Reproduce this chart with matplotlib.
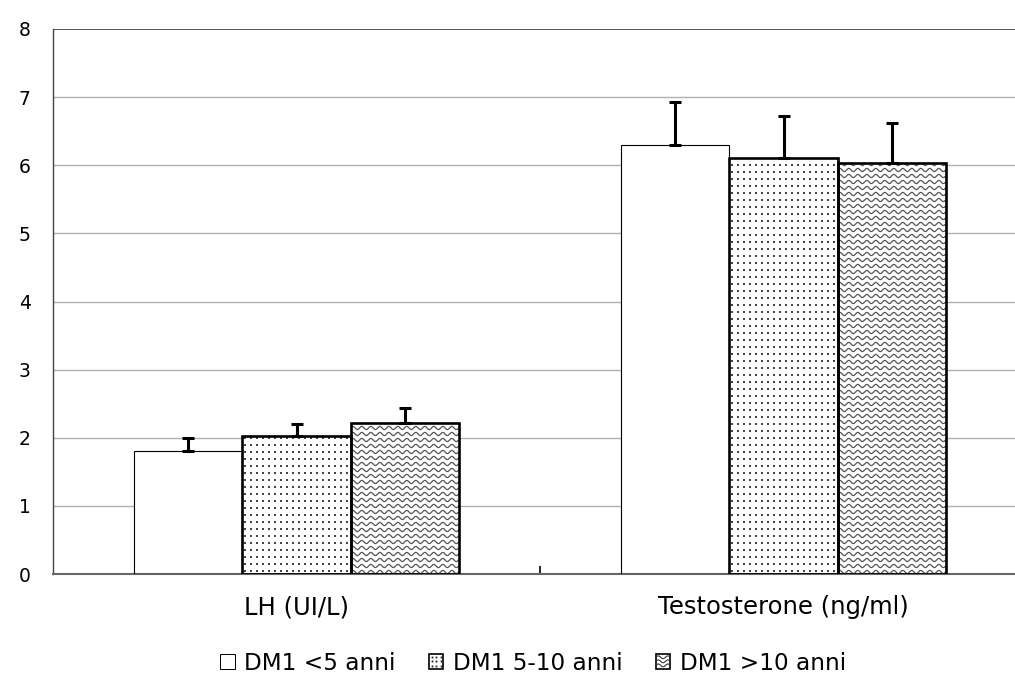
import numpy as np
import matplotlib
matplotlib.use("Agg")
import matplotlib.pyplot as plt
from matplotlib.patches import Rectangle
from matplotlib.legend_handler import HandlerBase
from matplotlib.lines import Line2D

categories = ["LH (UI/L)", "Testosterone (ng/ml)"]
series = ["DM1 <5 anni", "DM1 5-10 anni", "DM1 >10 anni"]
means = {
    "DM1 <5 anni": [1.81, 6.30],
    "DM1 5-10 anni": [2.03, 6.10],
    "DM1 >10 anni": [2.22, 6.03],
}
errors = {
    "DM1 <5 anni": [0.19, 0.63],
    "DM1 5-10 anni": [0.17, 0.62],
    "DM1 >10 anni": [0.21, 0.59],
}
yticks = [0, 1, 2, 3, 4, 5, 6, 7, 8]

W, H, DPI = 1015, 677, 100
fig = plt.figure(figsize=(W / DPI, H / DPI), dpi=DPI)
ax = fig.add_axes([53 / W, 103 / H, 974 / W, 545 / H])
ax.set_xlim(-0.5, 1.5)
ax.set_ylim(0, 8)

# pixels -> data unit scale factors
px_x = 2.0 / 974
px_y = 8.0 / 545

bar_w = 0.222
edge_lw = [0.8, 1.9, 1.9]
x = np.arange(len(categories))


def add_dots(patch, x0, x1, y0, y1):
    xs = np.arange(x0 + 3 * px_x, x1, 6 * px_x)
    ys = np.arange(y0 + 3 * px_y, y1, 7 * px_y)
    gx, gy = np.meshgrid(xs, ys)
    sc = ax.scatter(gx.ravel(), gy.ravel(), s=1.0, c="#444444", marker="s",
                    linewidths=0, zorder=2)
    sc.set_clip_path(patch)


def add_waves(patch, x0, x1, y0, y1):
    xs = np.linspace(x0, x1, 500)
    period = 9.0 * px_x
    amp = 1.6 * px_y
    for yb in np.arange(y0 + 2 * px_y, y1 + 6 * px_y, 6 * px_y):
        ys = yb + amp * np.sin(2 * np.pi * (xs - x0) / period)
        ln, = ax.plot(xs, ys, color="#555555", lw=0.9, zorder=2,
                      solid_capstyle="butt")
        ln.set_clip_path(patch)


for i, s in enumerate(series):
    pos = x + (i - 1) * bar_w
    bars = ax.bar(pos, means[s], width=bar_w, color="white",
                  edgecolor="black", linewidth=edge_lw[i], zorder=3)
    for b in bars:
        b.set_facecolor("none")
        bg = Rectangle(b.get_xy(), b.get_width(), b.get_height(),
                       facecolor="white", edgecolor="none", zorder=1)
        ax.add_patch(bg)
        bx0, by0 = b.get_xy()
        bx1, by1 = bx0 + b.get_width(), by0 + b.get_height()
        if i == 1:
            add_dots(bg, bx0, bx1, by0, by1)
        elif i == 2:
            add_waves(bg, bx0, bx1, by0, by1)
    ax.errorbar(pos, means[s], yerr=[np.zeros(len(categories)), errors[s]],
                fmt="none", ecolor="black", elinewidth=2.2, capsize=4.5,
                capthick=2.2, zorder=4)

# grid and frame
for t in yticks[1:-1]:
    ax.axhline(t, color="#b0b0b0", lw=1.0, zorder=0)
ax.axhline(8, color="#444444", lw=1.3, zorder=0)
for sp in ["top", "right"]:
    ax.spines[sp].set_visible(False)
ax.spines["left"].set_color("#444444")
ax.spines["left"].set_linewidth(1.0)
ax.spines["bottom"].set_color("#666666")
ax.spines["bottom"].set_linewidth(1.5)

ax.set_yticks(yticks)
ax.set_yticklabels([str(t) for t in yticks], fontsize=13.5)
ax.tick_params(axis="y", length=0, pad=16)

ax.set_xticks([0.5])
ax.set_xticklabels([""])
ax.tick_params(axis="x", direction="in", length=6, width=1.2, color="black")
for xi, c in zip(x, categories):
    ax.text(xi, -0.49, c, ha="center", va="center", fontsize=17.5,
            transform=ax.transData)


class PatternHandler(HandlerBase):
    def __init__(self, kind):
        super().__init__()
        self.kind = kind

    def create_artists(self, legend, orig_handle, xdescent, ydescent,
                       width, height, fontsize, trans):
        x0, y0 = -xdescent, -ydescent
        arts = []
        rect = Rectangle((x0, y0), width, height, facecolor="white",
                         edgecolor="black", lw=0.7, transform=trans)
        arts.append(rect)
        if self.kind == "dots":
            for gx in np.linspace(x0 + 2, x0 + width - 2, 3):
                for gy in np.linspace(y0 + 2, y0 + height - 2, 3):
                    arts.append(Line2D([gx], [gy], marker="s", ms=1.3,
                                       color="#222222", mew=0,
                                       transform=trans))
            rect.set_linewidth(1.2)
        elif self.kind == "waves":
            xs = np.linspace(x0 + 1, x0 + width - 1, 40)
            for yb in np.linspace(y0 + 2.5, y0 + height - 2.5, 3):
                ys = yb + 1.0 * np.sin(2 * np.pi * (xs - x0) / (width / 1.5))
                arts.append(Line2D(xs, ys, color="#333333", lw=0.8,
                                   transform=trans))
            rect.set_linewidth(1.2)
        return arts


handles = [Rectangle((0, 0), 1, 1) for _ in series]
handler_map = {
    handles[0]: PatternHandler("plain"),
    handles[1]: PatternHandler("dots"),
    handles[2]: PatternHandler("waves"),
}
fig.legend(handles, series, handler_map=handler_map, loc="center",
           bbox_to_anchor=(533 / W, 1 - 663 / H), ncol=3, frameon=False,
           fontsize=16.7, handlelength=0.62, handleheight=0.62,
           handletextpad=0.4, columnspacing=1.45)

fig.savefig("out.png", dpi=DPI)
